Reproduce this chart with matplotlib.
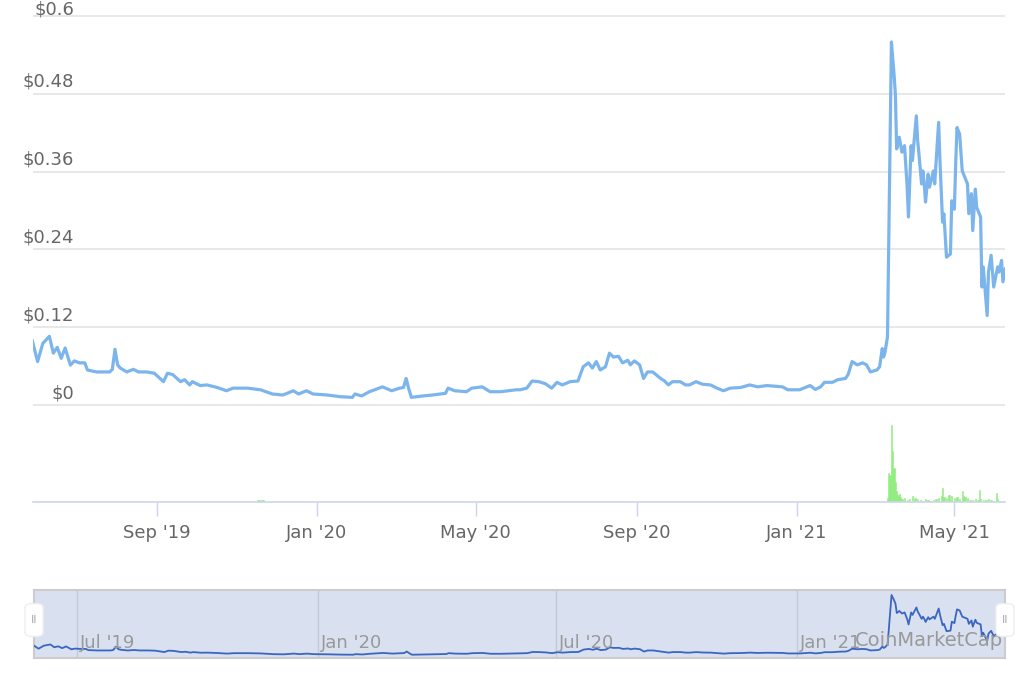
import numpy as np
import matplotlib
matplotlib.use("Agg")
import matplotlib.pyplot as plt
import matplotlib.dates as mdates
from matplotlib.patches import FancyBboxPatch

# ---- data (days counted from 2020-01-01) ----
price_days = [-217, -213, -209, -204, -201, -198, -195, -192, -188, -185, -181, -177, -175, -168,
              -158, -156, -154, -152, -150, -145, -140, -136, -130, -124, -117, -114, -110, -104,
              -101, -97, -95, -89, -84, -76, -69, -64, -53, -43, -34, -26, -18, -14, -8, -3, 8, 18,
              27, 29, 34, 40, 50, 57, 63, 66, 68, 70, 72, 81, 88, 98, 100, 105, 114, 118, 126, 132,
              140, 152, 155, 160, 164, 169, 174, 179, 183, 187, 193, 199, 203, 207, 210, 213, 216,
              220, 223, 226, 230, 233, 237, 239, 242, 246, 249, 252, 256, 262, 265, 268, 271, 277,
              281, 284, 289, 294, 300, 305, 310, 315, 323, 330, 336, 343, 355, 359, 368, 376, 380,
              384, 387, 393, 397, 403, 405, 408, 412, 416, 419, 422, 427, 429, 431, 432, 433, 435,
              438, 440, 441, 442, 444, 446, 448, 450, 451, 453, 454, 457, 458, 459, 461, 462, 463,
              464, 466, 467, 470, 471, 474, 475, 477, 478, 480, 483, 484, 486, 487, 488, 490, 492,
              494, 496, 497, 499, 500, 502, 503, 506, 507, 508, 511, 512, 514, 516, 519, 520, 522,
              523, 525]
price_usd = [0.099, 0.067, 0.095, 0.106, 0.080, 0.089, 0.072, 0.088, 0.0615, 0.068, 0.065, 0.065, 0.054, 0.051,
             0.051, 0.055, 0.086, 0.062, 0.057, 0.051, 0.055, 0.051, 0.051, 0.049, 0.036, 0.049, 0.047, 0.036,
             0.039, 0.031, 0.036, 0.030, 0.031, 0.027, 0.022, 0.026, 0.026, 0.0235, 0.017, 0.0154, 0.022, 0.017, 0.022, 0.017, 0.0154, 0.0128,
             0.0118, 0.017, 0.014, 0.0205, 0.028, 0.022, 0.026, 0.027, 0.041, 0.025, 0.0118, 0.014, 0.0154, 0.018, 0.026, 0.022, 0.0205, 0.026, 0.028, 0.0205,
             0.0205, 0.0235, 0.0235, 0.026, 0.037, 0.036, 0.033, 0.026, 0.035, 0.031, 0.036, 0.037, 0.059, 0.065, 0.057, 0.067, 0.054,
             0.059, 0.080, 0.074, 0.075, 0.065, 0.069, 0.062, 0.068, 0.062, 0.041, 0.051, 0.051, 0.041, 0.037, 0.031, 0.036, 0.036,
             0.031, 0.031, 0.036, 0.032, 0.031, 0.026, 0.022, 0.026, 0.027, 0.031, 0.028, 0.030, 0.028, 0.0235, 0.0235, 0.030, 0.024,
             0.028, 0.035, 0.035, 0.039, 0.041, 0.047, 0.067, 0.062, 0.065, 0.062, 0.051, 0.054, 0.059, 0.087, 0.074, 0.080, 0.105,
             0.560, 0.510, 0.480, 0.395, 0.413, 0.390, 0.400, 0.336, 0.290, 0.400, 0.377, 0.446, 0.408, 0.387, 0.341, 0.361, 0.341,
             0.313, 0.356, 0.336, 0.361, 0.341, 0.436, 0.377, 0.282, 0.295, 0.228, 0.233, 0.315, 0.302, 0.372, 0.428, 0.418, 0.361,
             0.351, 0.341, 0.295, 0.326, 0.269, 0.333, 0.305, 0.290, 0.182, 0.213, 0.138, 0.205, 0.231, 0.182, 0.213, 0.205, 0.223,
             0.190, 0.210]

vol_days = [-45, -44, -42, -41, 434, 435, 436, 437, 438, 439, 440, 441, 442, 443, 444, 445, 446, 448, 450,
            452, 454, 456, 458, 460, 462, 464, 466, 468, 470, 472, 474, 476, 477, 478, 480, 482, 484, 486,
            488, 490, 492, 493, 494, 496, 498, 500, 502, 504, 505, 506, 508, 510, 512, 514, 516, 518, 519, 520]
vol_rel = [2, 2.5, 2, 2, 1, 4, 29, 27, 77, 51, 34, 20, 11, 7, 8, 5, 3, 4, 2,
           3, 6, 4, 3, 2, 1, 3, 2, 1.5, 2, 3, 4, 6, 14, 5, 4, 7, 6, 4,
           5, 3, 11, 6, 5, 4, 2, 2, 3, 2, 12, 3, 2, 2, 3, 2, 1.5, 9, 3, 1]

price_ticks = [0, 0.12, 0.24, 0.36, 0.48, 0.6]
price_tick_labels = ["$0", "$0.12", "$0.24", "$0.36", "$0.48", "$0.6"]
nav_labels = ["Jul '19", "Jan '20", "Jul '20", "Jan '21"]

base = np.datetime64("2020-01-01")
pdates = base + np.array(price_days).astype("timedelta64[D]")
vdates = base + np.array(vol_days).astype("timedelta64[D]")
x0 = mdates.date2num(base) - 216.5
x1 = mdates.date2num(base) + 524.6

W, H = 1024, 683
fig = plt.figure(figsize=(W / 100, H / 100), dpi=100)
fig.patch.set_facecolor("white")

def fx(px):
    return px / W

def fy(py):
    return 1 - py / H

# ---- main price axes ----
per_px = 0.12 / 78
axp = fig.add_axes([fx(33), fy(410), fx(1005 - 33), (410 - 10) / H])
axp.set_xlim(x0, x1)
axp.set_ylim(-5 * per_px, 0.6 + 6 * per_px)
for t in price_ticks:
    axp.axhline(t, color="#e6e6e6", lw=1.3, zorder=1)
axp.plot(mdates.date2num(pdates), price_usd, color="#7cb5ec", lw=2.3, zorder=3,
         solid_joinstyle="round")
axp.axis("off")
for t, lab in zip(price_ticks, price_tick_labels):
    yy = axp.transData.transform((x0, t))[1]
    ypos = min((yy + 3) / H, 1.0)
    if t == 0.6:
        fig.text(fx(74), 0.999, lab, ha="right", va="top", fontsize=13, color="#666666")
    else:
        fig.text(fx(74), ypos, lab, ha="right", va="bottom", fontsize=13, color="#666666")

# ---- volume axes ----
axv = fig.add_axes([fx(33), fy(502), fx(1005 - 33), 92 / H])
axv.set_xlim(x0, x1)
axv.set_ylim(0, 92)
axv.bar(mdates.date2num(vdates), vol_rel, width=1.0, color="#90ed7d", edgecolor="#90ed7d", lw=0.4)
for s in ["top", "left", "right"]:
    axv.spines[s].set_visible(False)
axv.spines["bottom"].set_color("#ccd6eb")
axv.spines["bottom"].set_linewidth(1.2)
axv.set_yticks([])
axv.xaxis.set_major_locator(mdates.MonthLocator(bymonth=[1, 5, 9]))
axv.xaxis.set_major_formatter(mdates.DateFormatter("%b '%y"))
axv.tick_params(axis="x", length=10, width=1, color="#ccd6eb", labelsize=13,
                labelcolor="#666666", pad=6)
axv.patch.set_alpha(0)

# ---- navigator ----
axn = fig.add_axes([fx(34), fy(658), fx(1005 - 34), 68 / H])
axn.set_xlim(x0, x1)
nav_per = 0.56 / 61
axn.set_ylim(-2 * nav_per, 0.56 + 5 * nav_per)
axn.set_facecolor("#d9e0f0")
pnum = mdates.date2num(pdates)
axn.plot(pnum, price_usd, color="#3a66c0", lw=1.3, zorder=3)
axn.set_xticks([])
axn.set_yticks([])
for s in axn.spines.values():
    s.set_color("#cccccc")
    s.set_linewidth(1.5)
nav_dates = [np.datetime64("2019-07-01"), np.datetime64("2020-01-01"),
             np.datetime64("2020-07-01"), np.datetime64("2021-01-01")]
for d, lab in zip(nav_dates, nav_labels):
    xn = mdates.date2num(d)
    axn.axvline(xn, color="#c4c9d6", lw=1, zorder=1)
    fig.text(fx(axn.transData.transform((xn, 0))[0] + 3), fy(643), lab, ha="left", va="center",
             fontsize=13, color="#999999", zorder=2)
fig.text(fx(1003), fy(641), "CoinMarketCap", ha="right", va="center", fontsize=14, color="#999999")

# handles
for hx in (34, 1005):
    box = FancyBboxPatch((fx(hx - 7), fy(635)), fx(14), 30 / H,
                         boxstyle="round,pad=0.002,rounding_size=0.006",
                         transform=fig.transFigure, facecolor="white", edgecolor="#eeeeee",
                         lw=1, zorder=10)
    fig.add_artist(box)
    fig.text(fx(hx), fy(620), "II", ha="center", va="center", fontsize=8, color="#aaaaaa", zorder=11)

fig.savefig("out.png", dpi=100)
